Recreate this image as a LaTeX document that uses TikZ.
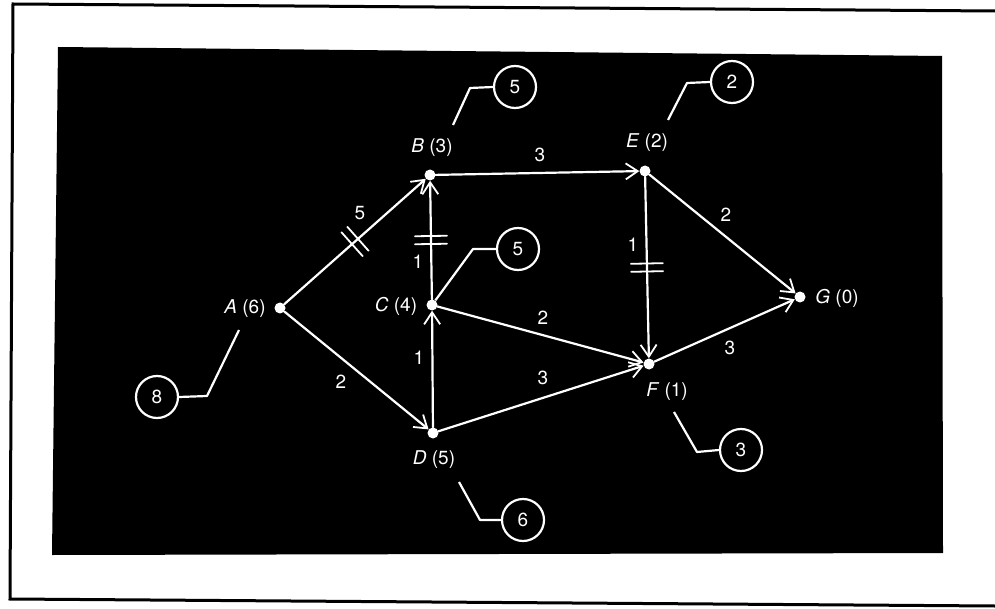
\documentclass[tikz,border=0pt]{standalone}
\usepackage{fontspec}
\setmainfont{TeX Gyre Heros}
\usetikzlibrary{arrows.meta,decorations.markings,calc}
\begin{document}
\begin{tikzpicture}[x=1pt,y=-1pt,
  dot/.style={circle,fill=white,inner sep=0pt,minimum size=11pt},
  edge/.style={draw=white,line width=2.2pt,line cap=round,
    -{Straight Barb[length=12pt,width=16pt,line width=1.8pt]}},
  ticks/.style={postaction={decorate},decoration={markings,
    mark=at position #1 with {\draw[-,white,line width=1.8pt] (-4pt,-16pt) -- (-4pt,16pt) (4pt,-16pt) -- (4pt,16pt);}}},
  lbl/.style={text=white,inner sep=0pt,font=\fontsize{19}{21}\selectfont},
  circ/.style={circle,draw=white,line width=2.2pt,minimum size=42pt,inner sep=0pt,
    text=white,font=\fontsize{19}{21}\selectfont},
  leader/.style={draw=white,line width=2.2pt,line join=round}
]
\useasboundingbox (0,0) rectangle (995,609);
% frame
\draw[line width=3pt] (995,11) -- (13,4) -- (10,599) -- (995,606);
% black panel
\fill[black] (58,47) -- (942,56) -- (943,553) -- (52,555) -- cycle;

% vertices
\node[dot] (A) at (280,308) {};
\node[dot] (B) at (430,175) {};
\node[dot] (C) at (432,305) {};
\node[dot] (D) at (433,433) {};
\node[dot] (E) at (645,171) {};
\node[dot] (F) at (649,364) {};
\node[dot] (G) at (800,297) {};

% vertex labels
\node[lbl] (lA) at (245,309) {\textit{A} (6)};
\node[lbl] (lB) at (432,148) {\textit{B} (3)};
\node[lbl] (lC) at (396,306) {\textit{C} (4)};
\node[lbl] (lD) at (434,460) {\textit{D} (5)};
\node[lbl] (lE) at (647,143) {\textit{E} (2)};
\node[lbl] (lF) at (667,392) {\textit{F} (1)};
\node[lbl] (lG) at (837,298) {\textit{G} (0)};

% edges
\draw[edge,ticks=0.5] (A) -- (B);
\draw[edge] (A) -- (D);
\draw[edge] (B) -- (E);
\draw[edge,ticks=0.5] (C) -- (B);
\draw[edge] (D) -- (C);
\draw[edge] (C) -- (F);
\draw[edge] (D) -- (F);
\draw[edge,ticks=0.5] (E) -- (F);
\draw[edge] (E) -- (G);
\draw[edge] (F) -- (G);

% edge weights
\node[lbl] (wAB) at (360,213) {5};
\node[lbl] (wAD) at (341,382) {2};
\node[lbl] (wBE) at (540,155) {3};
\node[lbl] (wCB) at (418,262) {1};
\node[lbl] (wDC) at (419,358) {1};
\node[lbl] (wCF) at (543,318) {2};
\node[lbl] (wDF) at (543,378) {3};
\node[lbl] (wEF) at (633,245) {1};
\node[lbl] (wEG) at (726,215) {2};
\node[lbl] (wFG) at (730,348) {3};

% callout circles
\node[circ] (cA) at (157,397) {8};
\node[circ] (cB) at (515,87) {5};
\node[circ] (cC) at (518,249) {5};
\node[circ] (cD) at (523,520) {6};
\node[circ] (cE) at (732,82) {2};
\node[circ] (cF) at (741,450) {3};

% leader bends and ends
\coordinate (kA) at (207,396); \coordinate (eA) at (239,330);
\coordinate (kB) at (470,88);  \coordinate (eB) at (453,125);
\coordinate (kC) at (473,249);
\coordinate (kD) at (480,520); \coordinate (eD) at (459,482);
\coordinate (kE) at (687,83);  \coordinate (eE) at (668,120);
\coordinate (kF) at (697,452); \coordinate (eF) at (674,412);

\draw[leader] (cA.east) -- (kA) -- (eA);
\draw[leader] (cB.west) -- (kB) -- (eB);
\draw[leader] (cC.west) -- (kC) -- (C);
\draw[leader] (cD.west) -- (kD) -- (eD);
\draw[leader] (cE.west) -- (kE) -- (eE);
\draw[leader] (cF.west) -- (kF) -- (eF);
\end{tikzpicture}
\end{document}
